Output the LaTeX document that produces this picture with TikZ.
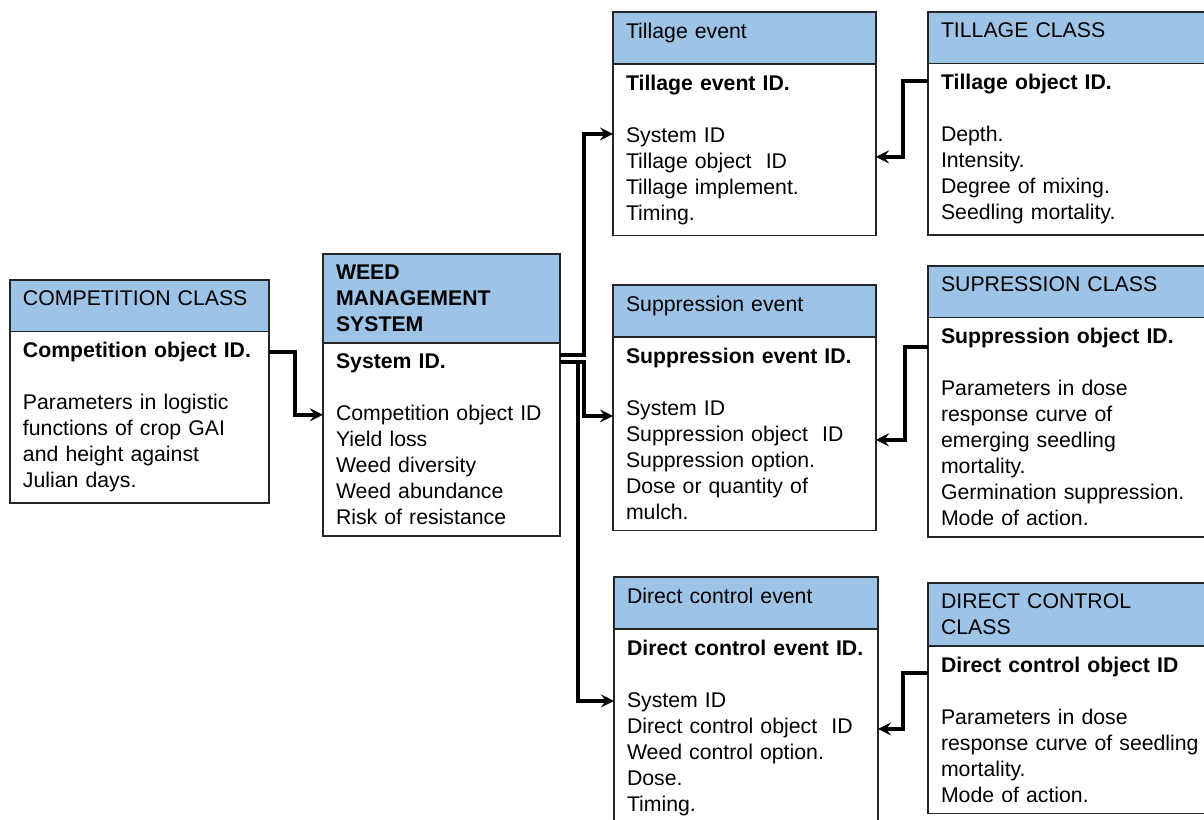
\documentclass[tikz,border=0pt]{standalone}
\usepackage{fontspec}
\setmainfont{Liberation Sans}
\tikzset{>=stealth}
\usetikzlibrary{positioning,calc}
\definecolor{headblue}{HTML}{9DC3E6}
\newcommand\boxfont{\fontsize{12.1pt}{14.8pt}\selectfont}
\tikzset{
  box/.style={draw=black!85, line width=0.8pt, anchor=north west, outer sep=0pt,
    align=left, inner xsep=0.26cm, inner ysep=0.22cm, font=\boxfont},
  hdr/.style={box, fill=headblue},
  oneline/.style={text depth=0.29cm},
  conn/.style={->, line width=2.2pt},
}

\begin{document}
\begin{tikzpicture}[x=0.02cm,y=-0.02cm]
  \useasboundingbox (0,0) rectangle (1204,820);
  \clip (0,0) rectangle (1204,820);
  % competition class
  \node[hdr, oneline, text width=4.66cm] (comph) at (10,280) {COMPETITION CLASS};
  \node[box, text width=4.66cm, below=0pt of comph] (compb)
    {\textbf{Competition object ID.}\\[14.8pt]Parameters in logistic\\functions of crop GAI\\and height against\\Julian days.};
  % weed management system
  \node[hdr, text width=4.22cm, font=\boxfont\bfseries] (wmsh) at (323,254) {WEED\\MANAGEMENT\\SYSTEM};
  \node[box, text width=4.22cm, below=0pt of wmsh] (wmsb)
    {\textbf{System ID.}\\[14.8pt]Competition object ID\\Yield loss\\Weed diversity\\Weed abundance\\Risk of resistance};
  % events
  \node[hdr, oneline, text width=4.74cm] (tilh) at (613,12) {Tillage event};
  \node[box, text width=4.74cm, below=0pt of tilh] (tilb)
    {\textbf{Tillage event ID.}\\[14.8pt]System ID\\Tillage object~ ID\\Tillage implement.\\Timing.};
  \node[hdr, oneline, text width=4.74cm] (supph) at (613,285) {Suppression event};
  \node[box, text width=4.74cm, below=0pt of supph] (suppb)
    {\textbf{Suppression event ID.}\\[14.8pt]System ID\\Suppression object~ ID\\Suppression option.\\Dose or quantity of\\mulch.};
  \node[hdr, oneline, text width=4.76cm] (dch) at (614,577) {Direct control event};
  \node[box, text width=4.76cm, below=0pt of dch] (dcb)
    {\textbf{Direct control event ID.}\\[14.8pt]System ID\\Direct control object~ ID\\Weed control option.\\Dose.\\Timing.};
  % classes
  \node[hdr, oneline, text width=5.5cm] (tch) at (928,12) {TILLAGE CLASS};
  \node[box, text width=5.5cm, below=0pt of tch] (tcb)
    {\textbf{Tillage object ID.}\\[14.8pt]Depth.\\Intensity.\\Degree of mixing.\\Seedling mortality.};
  \node[hdr, oneline, text width=5.5cm] (sch) at (928,266) {SUPRESSION CLASS};
  \node[box, text width=5.5cm, below=0pt of sch] (scb)
    {\textbf{Suppression object ID.}\\[14.8pt]Parameters in dose\\response curve of\\emerging seedling\\mortality.\\Germination suppression.\\Mode of action.};
  \node[hdr, text width=5.5cm] (dcch) at (928,583) {DIRECT CONTROL\\CLASS};
  \node[box, text width=5.5cm, below=0pt of dcch] (dccb)
    {\textbf{Direct control object ID}\\[14.8pt]Parameters in dose\\response curve of seedling\\mortality.\\Mode of action.};
  % links
  \draw[conn] ($(compb.north east)+(0,21)$) -- ++(26,0) |- ($(wmsb.north west)+(0,72)$);
  \draw[conn] ($(wmsb.north east)+(0,12)$) -- ++(24,0) |- ($(tilb.north west)+(0,70)$);
  \draw[conn] ($(wmsb.north east)+(0,19)$) -- ++(24,0) |- ($(suppb.north west)+(0,79)$);
  \draw[conn] ($(wmsb.north east)+(0,19)$) -- ++(18,0) |- ($(dcb.north west)+(0,72)$);
  \draw[conn] ($(tcb.north west)+(0,18)$) -- ++(-25,0) |- ($(tilb.north east)+(0,93)$);
  \draw[conn] ($(scb.north west)+(0,30)$) -- ++(-23,0) |- ($(suppb.north east)+(0,103)$);
  \draw[conn] ($(dccb.north west)+(0,27)$) -- ++(-25,0) |- ($(dcb.north east)+(0,100)$);
\end{tikzpicture}
\end{document}
